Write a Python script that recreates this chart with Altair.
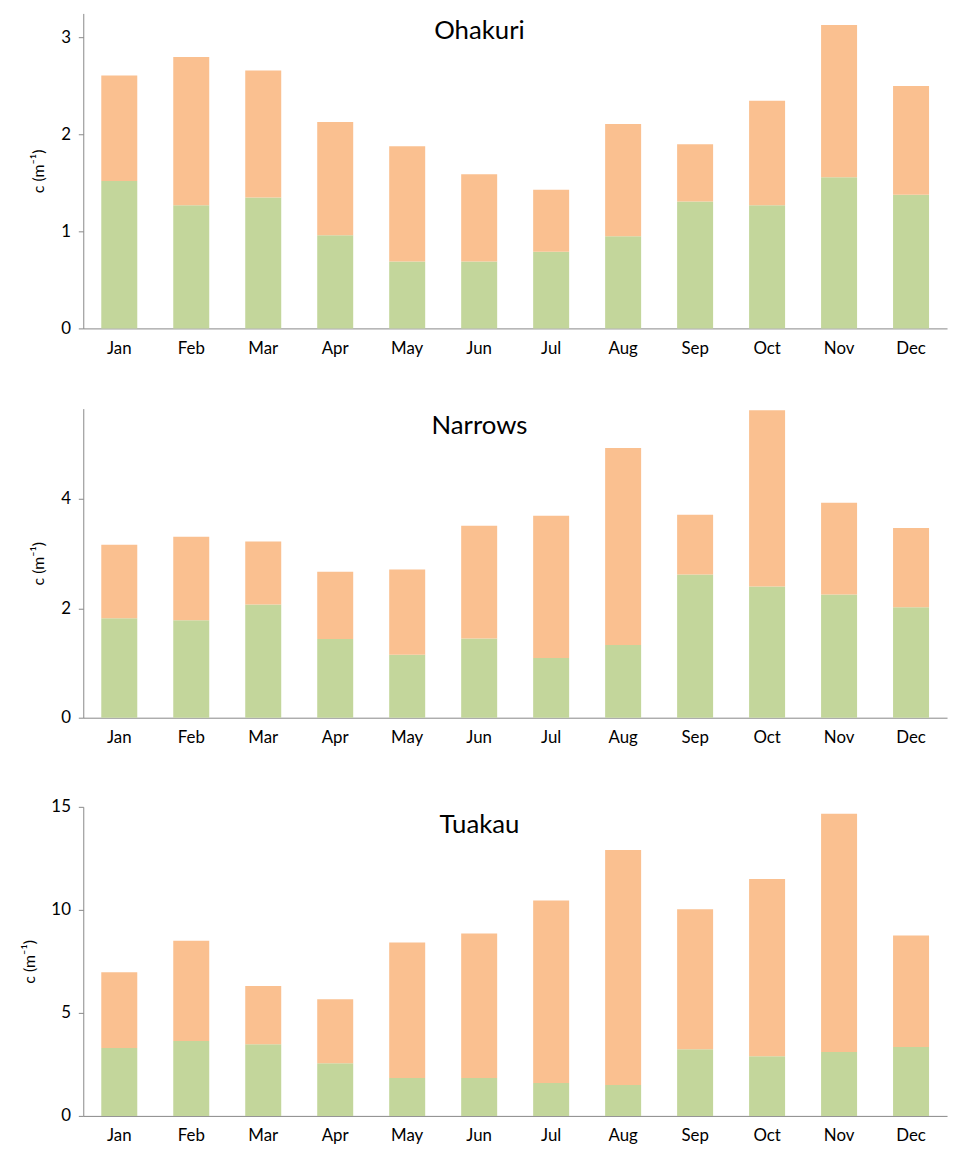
import altair as alt
import pandas as pd

months = ['Jan', 'Feb', 'Mar', 'Apr', 'May', 'Jun', 'Jul', 'Aug', 'Sep', 'Oct', 'Nov', 'Dec']

# green (lower) part and total height of each bar
ohakuri_low = [1.52, 1.27, 1.35, 0.96, 0.69, 0.69, 0.79, 0.95, 1.31, 1.27, 1.56, 1.38]
ohakuri_tot = [2.61, 2.80, 2.66, 2.13, 1.88, 1.59, 1.43, 2.11, 1.90, 2.35, 3.13, 2.50]
narrows_low = [1.82, 1.78, 2.07, 1.44, 1.15, 1.45, 1.09, 1.33, 2.62, 2.40, 2.25, 2.02]
narrows_tot = [3.16, 3.31, 3.22, 2.67, 2.71, 3.51, 3.69, 4.93, 3.71, 5.62, 3.93, 3.47]
tuakau_low = [3.30, 3.63, 3.48, 2.56, 1.84, 1.84, 1.60, 1.50, 3.24, 2.90, 3.10, 3.34]
tuakau_tot = [6.97, 8.50, 6.30, 5.66, 8.42, 8.85, 10.45, 12.90, 10.03, 11.50, 14.66, 8.75]

FONT = 'Lato'


def panneau(nom, low, tot, domaine, ticks, hauteur):
    df = pd.DataFrame({'mois': months * 2,
                       'part': ['a'] * 12 + ['b'] * 12,
                       'val': low + [t - l for t, l in zip(tot, low)]})
    bars = alt.Chart(df).mark_bar().encode(
        x=alt.X('mois:N', sort=months, title=None,
                scale=alt.Scale(paddingInner=0.5, paddingOuter=0.25),
                axis=alt.Axis(labelAngle=0, labelFontSize=17, labelPadding=12, ticks=False,
                              domainColor='#888', labelColor='black', labelFont=FONT)),
        y=alt.Y('val:Q', stack='zero', title='c (m⁻¹)',
                scale=alt.Scale(domain=domaine, nice=False),
                axis=alt.Axis(values=ticks, grid=False, labelFontSize=17, labelFont=FONT,
                              labelColor='black', titleFont=FONT, titleFontSize=16,
                              titleFontWeight='normal', titleColor='black', tickColor='#888',
                              domainColor='#888', tickSize=5, labelPadding=8, titlePadding=14)),
        color=alt.Color('part:N', legend=None,
                        scale=alt.Scale(domain=['a', 'b'], range=['#c3d69b', '#fac090'])),
        order=alt.Order('part:N'))
    titre = alt.Chart(pd.DataFrame({'t': [nom]})).mark_text(
        fontSize=26, font=FONT, color='black', baseline='top').encode(
        text='t:N', x=alt.value(400), y=alt.value(5))
    return (bars + titre).properties(width=872, height=hauteur)


chart = alt.vconcat(
    panneau('Ohakuri', ohakuri_low, ohakuri_tot, [0, 3.25], [0, 1, 2, 3], 318),
    panneau('Narrows', narrows_low, narrows_tot, [0, 5.65], [0, 2, 4], 312),
    panneau('Tuakau', tuakau_low, tuakau_tot, [0, 15], [0, 5, 10, 15], 312),
    spacing=53
).configure_view(stroke=None).properties(padding={'left': 13, 'top': 0, 'right': 5, 'bottom': 5})

chart.save("out.html", embed_options={"renderer": "svg", "actions": False})
